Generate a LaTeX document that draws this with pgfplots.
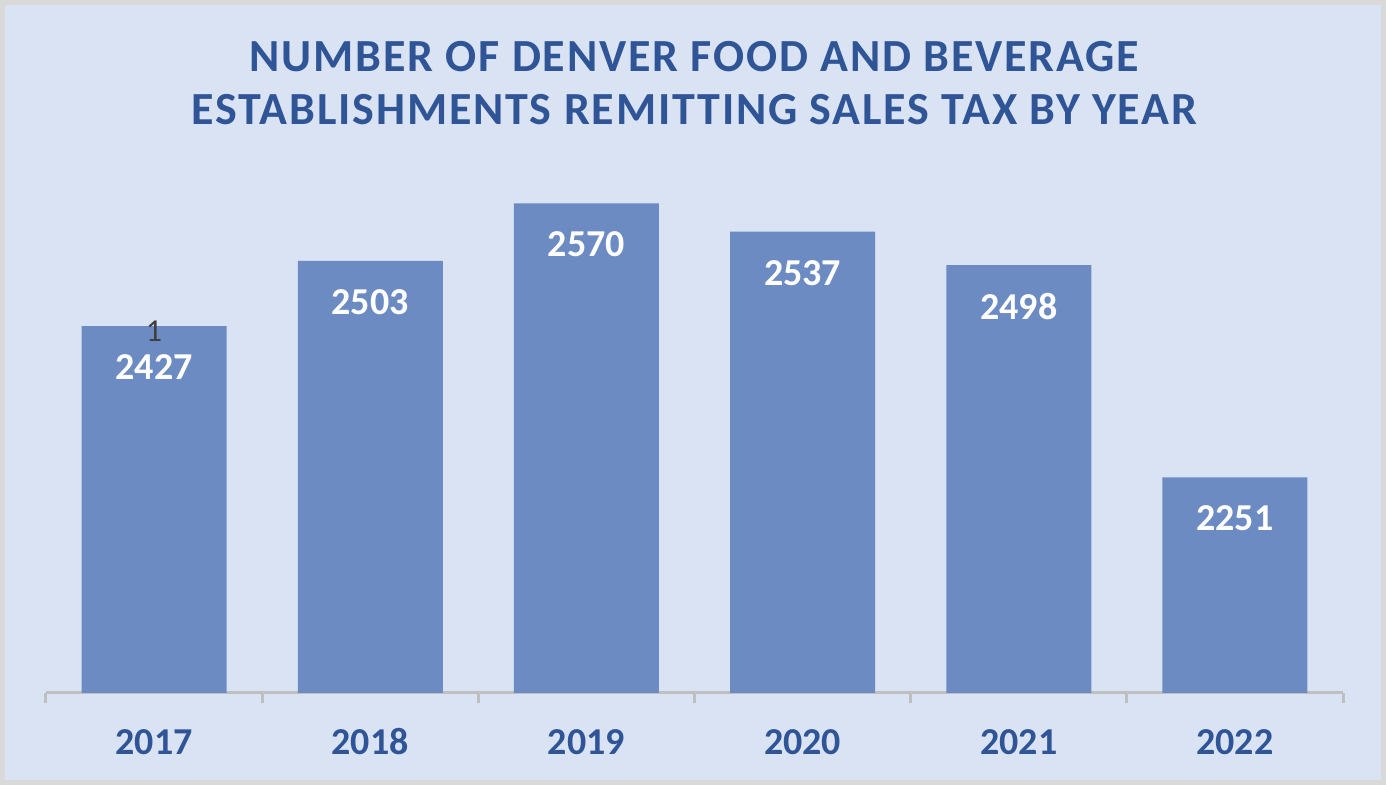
\documentclass[border=0pt]{standalone}
\usepackage{pgfplots}
\pgfplotsset{compat=1.18}
\usepackage{fontspec}
\setmainfont{Carlito}
\newfontfamily\titlefont[LetterSpace=4]{Carlito}

\definecolor{bgblue}{HTML}{DAE3F3}
\definecolor{framegray}{HTML}{D9D9D9}
\definecolor{barblue}{HTML}{6C8BC3}
\definecolor{titleblue}{HTML}{2F5597}
\definecolor{axisgray}{HTML}{BFBFBF}

\begin{document}
\begin{tikzpicture}
  % background panel
  \fill[framegray] (-23pt,-46pt) rectangle (670pt,346.5pt);
  \fill[bgblue] (-20.5pt,-43.5pt) rectangle (667.5pt,344pt);
  \begin{axis}[
    scale only axis,
    width=648.5pt, height=266.3pt,
    ybar, bar width=72.5pt,
    xmin=-0.5, xmax=5.5,
    ymin=2000, ymax=2620,
    axis x line*=bottom,
    hide y axis,
    axis line style={axisgray, line width=1.5pt},
    xtick={0,1,2,3,4,5},
    xticklabels={\textbf{2017},\textbf{2018},\textbf{2019},\textbf{2020},\textbf{2021},\textbf{2022}},
    major tick length=0pt,
    xticklabel style={font=\fontsize{19}{22}\selectfont, text=titleblue,
      anchor=north, text height=13pt, text depth=0pt, yshift=-14pt},
    extra x ticks={-0.5,0.5,1.5,2.5,3.5,4.5,5.5},
    extra x tick labels={},
    extra x tick style={major tick length=5pt, tick align=outside,
      tick style={axisgray, line width=1.5pt}},
    /pgf/number format/.cd, 1000 sep={}, assume math mode=true, /pgfplots/.cd,
    nodes near coords={\textbf{\pgfmathprintnumber{\pgfplotspointmeta}}},
    every node near coord/.append style={anchor=center, yshift=-20.5pt,
      text=white, font=\fontsize{19}{22}\selectfont},
    title={NUMBER OF DENVER FOOD AND BEVERAGE\\ESTABLISHMENTS REMITTING SALES TAX BY YEAR},
    title style={at={(0.5,1.122)}, anchor=center, align=center,
      font=\fontsize{23}{26.5}\selectfont\titlefont\bfseries, text=titleblue},
  ]
    \addplot[fill=barblue, draw=none] coordinates {
      (0,2427) (1,2503) (2,2570) (3,2537) (4,2498) (5,2251)
    };
    \node[text=black!75, font=\fontsize{16}{18}\selectfont, yshift=-2.5pt] at (axis cs:0,2427) {1};
  \end{axis}
\end{tikzpicture}
\end{document}
